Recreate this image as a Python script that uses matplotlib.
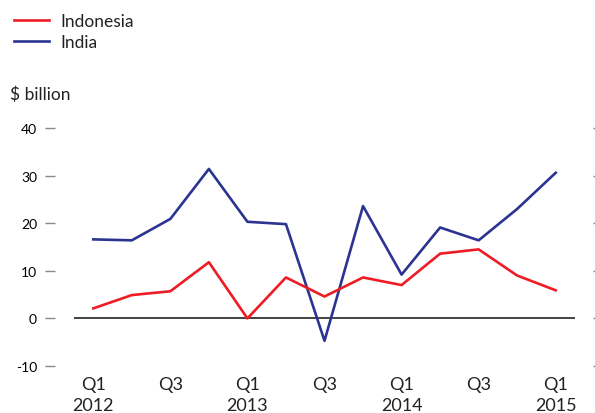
import matplotlib.pyplot as plt

quarters = ['Q1\n2012', 'Q2', 'Q3', 'Q4', 'Q1\n2013', 'Q2', 'Q3', 'Q4',
            'Q1\n2014', 'Q2', 'Q3', 'Q4', 'Q1\n2015']
indonesia = [2.1, 4.9, 5.7, 11.8, 0.0, 8.6, 4.6, 8.6, 7.0, 13.6, 14.5, 9.0, 5.9]
india = [16.6, 16.4, 20.9, 31.4, 20.3, 19.8, -4.7, 23.6, 9.2, 19.1, 16.4, 23.0, 30.6]
yticks = [-10, 0, 10, 20, 30, 40]

plt.rcParams['font.family'] = ['Lato', 'DejaVu Sans']
PX = 72 / 100  # points per pixel

fig = plt.figure(figsize=(5.95, 4.14), dpi=100)
ax = fig.add_axes([74 / 595, 47 / 414, 501 / 595, 238 / 414])

x = list(range(len(quarters)))
ax.axhline(0, color='#333333', lw=1.3, zorder=1)
ax.plot(x, indonesia, color='#ee1c25', lw=1.9, label='Indonesia', zorder=3)
ax.plot(x, india, color='#2b3490', lw=1.9, label='India', zorder=2)

ax.set_xlim(-0.5, 12.5)
ax.set_ylim(-10, 40)

# only Q1 / Q3 labels shown
ax.set_xticks(x[::2])
ax.set_xticklabels([quarters[i] for i in x[::2]], fontsize=13, color='#222222',
                   linespacing=1.4)
ax.tick_params(axis='x', length=0, pad=10 * PX)

ax.set_yticks(yticks)
ax.set_yticklabels([str(v) for v in yticks], fontsize=14, color='#222222')
ax.spines['left'].set_position(('outward', 19 * PX))
ax.spines['right'].set_position(('outward', 18 * PX))
for s in ax.spines.values():
    s.set_visible(False)
ax.tick_params(axis='y', left=True, right=True, length=10 * PX, width=1,
               color='#888888', pad=8 * PX, direction='out')
for t in ax.yaxis.get_ticklines():
    if t.get_marker() == 1:  # right-side ticks are tiny
        t.set_markersize(2 * PX)

fig.text(10 / 595, 1 - 95 / 414, '$ billion', fontsize=12.5, color='#222222',
         va='center', ha='left')

leg = fig.legend(loc='upper left', bbox_to_anchor=(0.0, 1.0), frameon=False,
                 fontsize=12.5, handlelength=2.0, handletextpad=0.65,
                 labelspacing=0.3, borderaxespad=0.4)
for txt in leg.get_texts():
    txt.set_color('#222222')

fig.savefig('out.png', dpi=100)
